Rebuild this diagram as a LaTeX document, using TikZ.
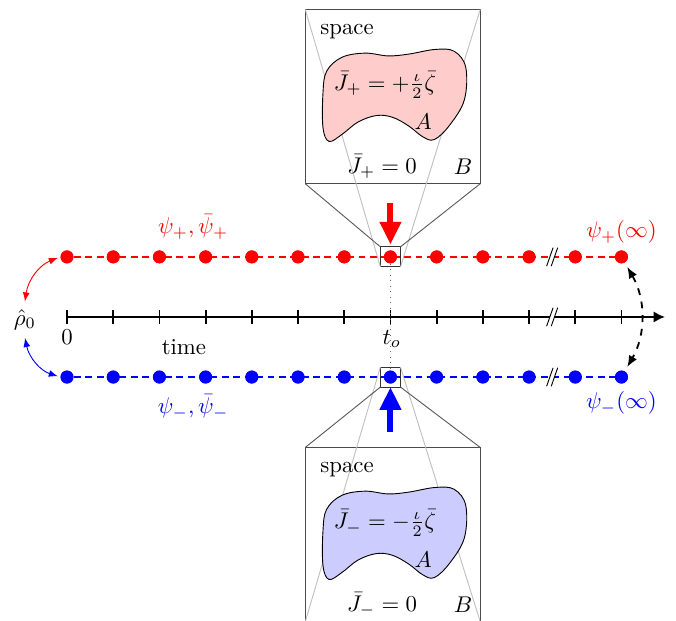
\documentclass[tikz,border=0pt]{standalone}
\usepackage{amsmath}
\usetikzlibrary{positioning, arrows.meta, calc}

\begin{document}
\begin{tikzpicture}[
        x=0.713cm, y=0.713cm,
        rdot/.style={circle, fill=red, inner sep=0pt, minimum size=0.2cm},
        bdot/.style={circle, fill=blue, inner sep=0pt, minimum size=0.2cm},
        chain/.style={dash pattern=on 3pt off 2pt, thick},
        bigbox/.style={draw=black!70, rectangle, minimum width=2.7cm, minimum height=2.69cm, inner sep=0pt, outer sep=0pt},
        zoombox/.style={draw=black!80, rectangle, minimum size=0.31cm, inner sep=0pt, outer sep=0pt},
        lens/.style={black!65},
        ray/.style={black!25},
        push/.style={-{Triangle[width=9pt, length=10pt]}, line width=2.6pt},
        link/.style={{Latex[length=4pt, width=3pt]}-{Latex[length=4pt, width=3pt]}, shorten >=1pt},
        swap/.style={{Latex[length=5pt, width=4pt]}-{Latex[length=5pt, width=4pt]}, thick, dashed, shorten <=2pt, shorten >=2pt}
    ]
    \useasboundingbox (-1.45,-6.56) rectangle (13.18,6.86);

    % the two branches and the time axis
    \foreach \i in {0,...,12} {
        \node[rdot] (Red\i) at (\i,1.3) {};
        \node[bdot] (Blue\i) at (\i,-1.3) {};
    }
    \coordinate (Origin) at (0,0);
    \coordinate (TimeEnd) at (12.94,0);
    \draw[red, chain] (Red0) -- (Red12);
    \draw[blue, chain] (Blue0) -- (Blue12);
    \draw[thick, -{Latex[length=5pt, width=5pt]}] (Origin) -- (TimeEnd);
    \foreach \i in {0,...,12}
        \draw[thick] (\i,-0.15) -- (\i,0.15);
    \foreach \y in {1.3,0,-1.3} {
        \fill[white] (10.38,\y-0.2) -- (10.48,\y-0.2) -- (10.62,\y+0.2) -- (10.52,\y+0.2) -- cycle;
        \draw (10.38,\y-0.2) -- (10.52,\y+0.2) (10.48,\y-0.2) -- (10.62,\y+0.2);
    }
    \draw[black!60, dotted] (Red7) -- (Blue7);
    \foreach \i in {0,...,12} {
        \node[rdot] at (Red\i) {};
        \node[bdot] at (Blue\i) {};
    }

    \node (Rho) at (-0.91,-0.06) {$\hat{\rho}_0$};
    \node (Zero) at (0,-0.43) {$0$};
    \node (Time) at (2.53,-0.65) {time};
    \node (To) at (7.03,-0.48) {$t_o$};
    \node[red] (RedLabel) at (2.73,1.95) {$\psi_+,\bar{\psi}_+$};
    \node[blue] (BlueLabel) at (2.73,-1.95) {$\psi_-,\bar{\psi}_-$};
    \node[red] (RedEnd) at (12,1.84) {$\psi_+(\infty)$};
    \node[blue] (BlueEnd) at (12,-1.86) {$\psi_-(\infty)$};

    \draw[link, red] (Rho.north) to[bend left=30] (Red0.west);
    \draw[link, blue] (Rho.south) to[bend right=30] (Blue0.west);
    \draw[swap] (Red12) to[bend left=30] (Blue12);

    % zoomed views of space
    \node[zoombox] (TopZoom) at (7,1.3) {};
    \node[zoombox] (BotZoom) at (7,-1.3) {};
    \node[bigbox] (TopBox) at (7.05,4.77) {};
    \node[bigbox] (BotBox) at (7.05,-4.71) {};

    \draw[ray] (TopBox.north west) -- (TopZoom.south west);
    \draw[ray] (TopBox.north east) -- (TopZoom.south east);
    \draw[ray] (BotBox.south west) -- (BotZoom.north west);
    \draw[ray] (BotBox.south east) -- (BotZoom.north east);
    \draw[lens] (TopBox.south west) -- (TopZoom.north west);
    \draw[lens] (TopBox.south east) -- (TopZoom.north east);
    \draw[lens] (BotBox.north west) -- (BotZoom.south west);
    \draw[lens] (BotBox.north east) -- (BotZoom.south east);

    \foreach \dy/\sgn/\fc/\n in {0/+/red!20/Top, -9.48/-/blue!20/Bot} {
        \begin{scope}[shift={(0,\dy)}]
            \draw[fill=\fc] plot[smooth cycle, tension=0.6] coordinates {
                (5.62,5.32) (5.95,5.62) (6.45,5.71) (6.95,5.65) (7.4,5.69) (7.97,5.79)
                (8.38,5.75) (8.63,5.4) (8.6,4.7) (8.28,4.15) (7.95,3.84) (7.7,3.9)
                (7.4,4.13) (7.05,4.32) (6.7,4.36) (6.3,4.22) (5.95,3.95) (5.67,3.8)
                (5.54,4.1) (5.54,4.85)};
            \node (\n Space) at (6.06,6.17) {space};
            \node (\n Source) at (6.88,5.02) {$\bar{J}_\sgn = \sgn\frac{\iota}{2}\bar{\zeta}$};
            \node (\n A) at (7.71,4.22) {$A$};
            \node (\n Zero) at (6.82,3.25) {$\bar{J}_\sgn = 0$};
            \node (\n B) at (8.57,3.25) {$B$};
        \end{scope}
    }

    \coordinate (TopPush) at (7,2.47);
    \coordinate (BotPush) at (7,-2.49);
    \draw[push, red] (TopPush) -- ([yshift=1pt]TopZoom.north);
    \draw[push, blue] (BotPush) -- (BotZoom.south);

\end{tikzpicture}
\end{document}
